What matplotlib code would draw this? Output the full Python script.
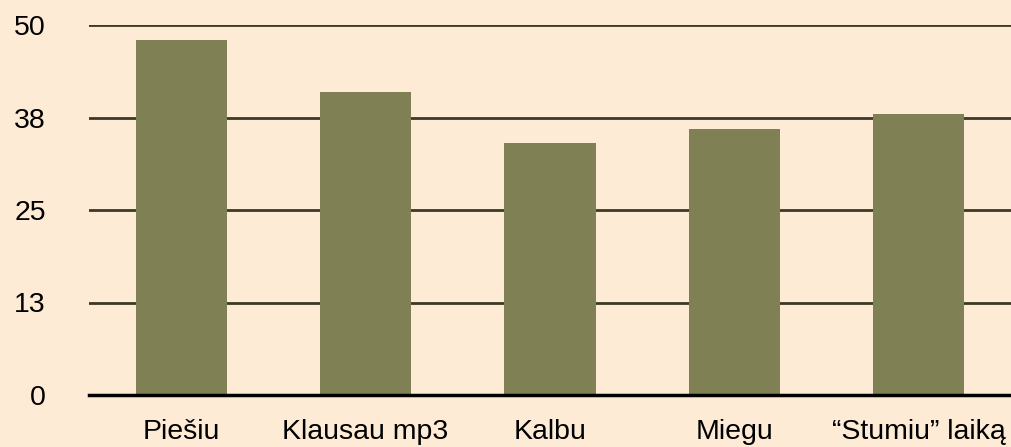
import matplotlib.pyplot as plt

# Data
categories = ['Piešiu', 'Klausau mp3', 'Kalbu', 'Miegu', '“Stumiu” laiką']
values = [48, 41, 34, 36, 38]
yticks = [0, 12.5, 25, 37.5, 50]
ytick_labels = ['0', '13', '25', '38', '50']

bg = '#fdebd6'
bar_color = '#808055'

plt.rcParams['font.family'] = ['Liberation Sans', 'DejaVu Sans']

fig = plt.figure(figsize=(10.11, 4.47), dpi=100, facecolor=bg)
ax = fig.add_axes([89 / 1011, 52 / 447, 922 / 1011, 370 / 447])
ax.set_facecolor(bg)

x = range(len(categories))
ax.bar(x, values, width=0.495, color=bar_color, zorder=3)

ax.set_xlim(-0.5, len(categories) - 0.5)
ax.set_ylim(0, 50)
ax.set_yticks(yticks)
ax.set_yticklabels(ytick_labels)
ax.set_xticks(list(x))
ax.set_xticklabels(categories)

for y in yticks[1:]:
    ax.axhline(y, color='#3a3a28', linewidth=2, zorder=1)
ax.axhline(0, color='black', linewidth=2.5, zorder=4, clip_on=False)

for s in ax.spines.values():
    s.set_visible(False)
ax.tick_params(axis='both', length=0, labelsize=20.5, colors='black')
ax.tick_params(axis='y', pad=31)
ax.tick_params(axis='x', pad=17)

fig.savefig('out.png', dpi=100, facecolor=bg)
